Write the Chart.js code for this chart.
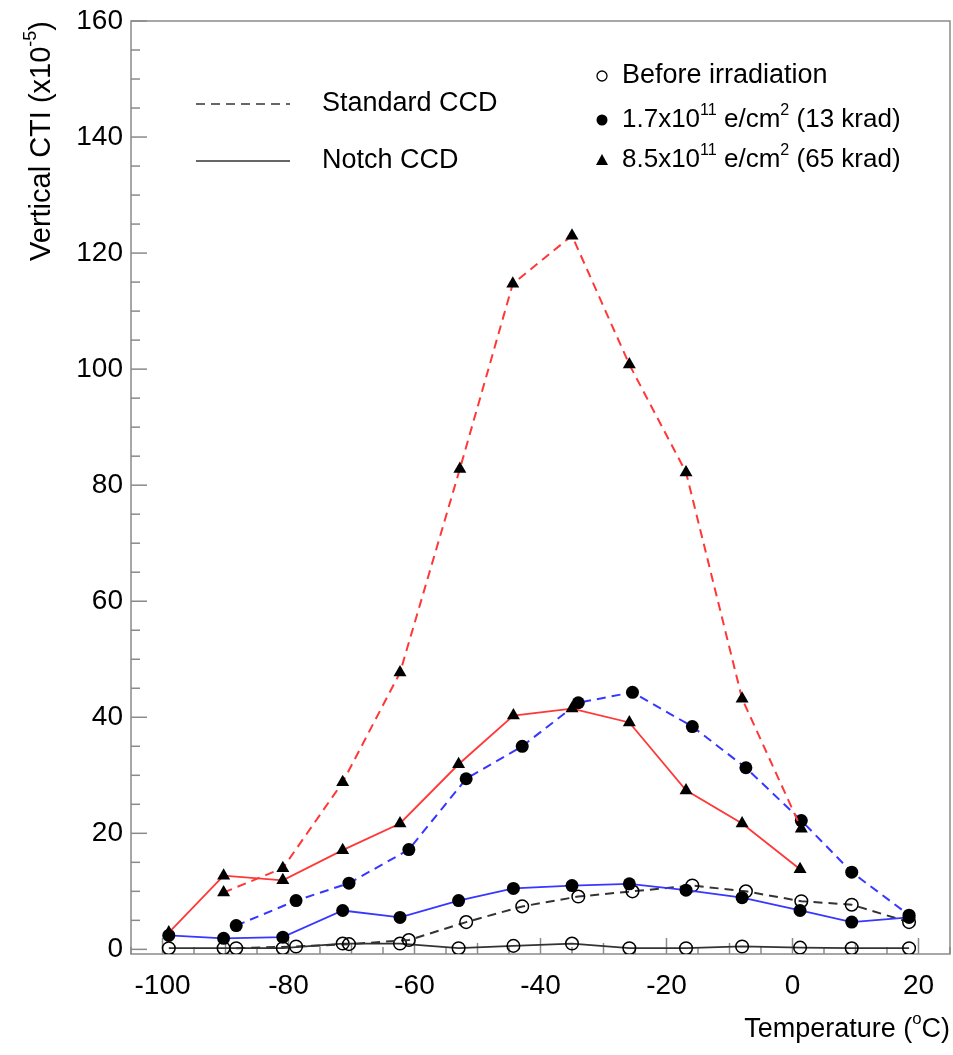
<!DOCTYPE html>
<html>
<head>
<meta charset="utf-8">
<script src="https://cdn.jsdelivr.net/npm/chart.js@4.4.1/dist/chart.umd.min.js"></script>
<style>
  body { margin: 0; background: #fff; }
</style>
</head>
<body>
<canvas id="cti_chart" width="953" height="1055"></canvas>
<script>
// temperatures (deg C)
const notchTemp = [-99, -90.3, -80.9, -71.4, -62.3, -53, -44.3, -35, -25.9, -16.9, -8, 1.2, 9.4, 18.5];
const stdTemp = [-88.3, -78.8, -70.4, -60.9, -51.8, -42.9, -34, -25.4, -15.9, -7.4, 1.4, 9.4, 18.5];
const stdTemp65 = [-90.3, -80.9, -71.4, -62.3, -52.8, -44.4, -35, -25.9, -16.9, -8, 1.4];

// vertical CTI (x10^-5)
const notchBefore = [0.2, 0.2, 0.2, 1.0, 1.0, 0.2, 0.6, 1.0, 0.2, 0.2, 0.5, 0.3, 0.2, 0.2];
const notch13 = [2.4, 1.9, 2.1, 6.7, 5.5, 8.4, 10.5, 11.0, 11.3, 10.2, 8.9, 6.7, 4.7, 5.5];
const notch65 = [2.9, 12.7, 11.9, 17.1, 21.7, 31.9, 40.3, 41.5, 39.1, 27.4, 21.7, 13.8];
const stdBefore = [0.2, 0.5, 0.9, 1.6, 4.7, 7.4, 9.1, 10.0, 11.0, 10.0, 8.3, 7.7, 4.7];
const std13 = [4.1, 8.4, 11.4, 17.2, 29.4, 35.0, 42.5, 44.3, 38.4, 31.3, 22.2, 13.3, 5.9];
const std65 = [9.8, 14.0, 28.8, 47.7, 82.8, 114.7, 123.0, 100.8, 82.2, 43.2, 20.8];

const xTickValues = [-100, -80, -60, -40, -20, 0, 20];
const yTickValues = [0, 20, 40, 60, 80, 100, 120, 140, 160];

const FONT = '"Liberation Sans", Arial, sans-serif';
const RED = 'rgb(255,55,55)';
const BLUE = 'rgb(55,55,255)';
const DARK = '#333';

function pts(temps, vals) {
  return vals.map(function (v, i) { return {x: temps[i], y: v}; });
}

// text with superscript parts
function drawRich(ctx, parts, x, y, size, align) {
  let total = 0;
  parts.forEach(function (p) {
    ctx.font = (p.sup ? size * 0.62 : size) + 'px ' + FONT;
    p.w = ctx.measureText(p.t).width;
    total += p.w;
  });
  let cx = align === 'right' ? x - total : x;
  parts.forEach(function (p) {
    ctx.font = (p.sup ? size * 0.62 : size) + 'px ' + FONT;
    ctx.fillText(p.t, cx, p.sup ? y - size * 0.38 : y);
    cx += p.w;
  });
}

function line(ctx, x1, y1, x2, y2) {
  ctx.beginPath();
  ctx.moveTo(x1, y1);
  ctx.lineTo(x2, y2);
  ctx.stroke();
}

// frame + inward ticks
const framePlugin = {
  id: 'frame',
  beforeDatasetsDraw(chart) {
    const ctx = chart.ctx, a = chart.chartArea, x = chart.scales.x, y = chart.scales.y;
    ctx.save();
    ctx.strokeStyle = '#8a8a8a';
    ctx.lineWidth = 1.5;
    ctx.strokeRect(a.left, a.top, a.right - a.left, a.bottom - a.top);
    for (let v = 0; v <= 160; v += 5) {
      const py = y.getPixelForValue(v);
      line(ctx, a.left, py, a.left + (v % 20 === 0 ? 16 : 9), py);
    }
    for (let v = -105; v <= 25; v += 5) {
      const px = x.getPixelForValue(v);
      const len = v % 20 === 0 ? 16 : (v % 10 === 0 ? 11 : 7);
      line(ctx, px, a.bottom, px, a.bottom - len);
    }
    ctx.restore();
  }
};

// axis titles and the two legend blocks
const textPlugin = {
  id: 'texts',
  afterDraw(chart) {
    const ctx = chart.ctx;
    ctx.save();
    ctx.fillStyle = '#000';
    ctx.textBaseline = 'middle';

    // y title
    ctx.save();
    ctx.translate(42, 21);
    ctx.rotate(-Math.PI / 2);
    drawRich(ctx, [{t: 'Vertical CTI (x10'}, {t: '-5', sup: true}, {t: ')'}], 0, 0, 29, 'right');
    ctx.restore();

    // x title
    drawRich(ctx, [{t: 'Temperature ('}, {t: 'o', sup: true}, {t: 'C)'}], 950, 1030, 27, 'right');

    // line style legend
    ctx.strokeStyle = '#666';
    ctx.lineWidth = 2;
    ctx.setLineDash([9, 6]);
    line(ctx, 196, 104, 290, 104);
    ctx.setLineDash([]);
    line(ctx, 196, 161, 290, 161);
    drawRich(ctx, [{t: 'Standard CCD'}], 322, 104, 27);
    drawRich(ctx, [{t: 'Notch CCD'}], 322, 161, 27);

    // marker legend
    ctx.strokeStyle = '#000';
    ctx.lineWidth = 1.3;
    ctx.beginPath();
    ctx.arc(602, 76, 5, 0, Math.PI * 2);
    ctx.stroke();
    ctx.beginPath();
    ctx.arc(602, 120, 5.5, 0, Math.PI * 2);
    ctx.fill();
    ctx.beginPath();
    ctx.moveTo(602, 154);
    ctx.lineTo(608, 165);
    ctx.lineTo(596, 165);
    ctx.closePath();
    ctx.fill();
    drawRich(ctx, [{t: 'Before irradiation'}], 622, 76, 27);
    drawRich(ctx, [{t: '1.7x10'}, {t: '11', sup: true}, {t: ' e/cm'}, {t: '2', sup: true}, {t: ' (13 krad)'}], 622, 120, 26);
    drawRich(ctx, [{t: '8.5x10'}, {t: '11', sup: true}, {t: ' e/cm'}, {t: '2', sup: true}, {t: ' (65 krad)'}], 622, 160, 26);
    ctx.restore();
  }
};

function series(data, color, dashed, marker) {
  const ds = {
    data: data,
    borderColor: color,
    borderWidth: dashed ? 2 : 1.8,
    borderDash: dashed ? [9, 6] : [],
    tension: 0,
    pointBorderColor: '#000',
    pointBorderWidth: 0,
    pointBackgroundColor: '#000'
  };
  if (marker === 'tri') {
    ds.pointStyle = 'triangle';
    ds.pointRadius = 7.5;
  } else if (marker === 'dot') {
    ds.pointStyle = 'circle';
    ds.pointRadius = 6.5;
  } else {
    ds.pointStyle = 'circle';
    ds.pointRadius = 6.3;
    ds.pointBorderWidth = 1.5;
    ds.pointBackgroundColor = 'rgba(0,0,0,0)';
  }
  return ds;
}

const config = {
  type: 'line',
  data: {
    datasets: [
      series(pts(stdTemp65, std65), RED, true, 'tri'),
      series(pts(notchTemp, notch65), RED, false, 'tri'),
      series(pts(stdTemp, std13), BLUE, true, 'dot'),
      series(pts(notchTemp, notch13), BLUE, false, 'dot'),
      series(pts(stdTemp, stdBefore), DARK, true, 'open'),
      series(pts(notchTemp, notchBefore), DARK, false, 'open')
    ]
  },
  options: {
    responsive: false,
    animation: false,
    devicePixelRatio: 1,
    layout: { autoPadding: false, padding: { top: 21, right: 3, left: 0, bottom: 0 } },
    plugins: { legend: { display: false }, tooltip: { enabled: false } },
    scales: {
      x: {
        type: 'linear',
        min: -105,
        max: 25,
        grid: { display: false, drawTicks: false },
        border: { display: false },
        afterBuildTicks: function (scale) { scale.ticks = xTickValues.map(function (v) { return {value: v}; }); },
        afterFit: function (scale) {
          scale.height = 101;
          scale.paddingLeft = 0;
          scale.paddingRight = 0;
        },
        ticks: { color: '#000', padding: 15, font: { family: FONT, size: 28 } }
      },
      y: {
        type: 'linear',
        min: -0.8,
        max: 160,
        grid: { display: false, drawTicks: false },
        border: { display: false },
        afterBuildTicks: function (scale) { scale.ticks = yTickValues.map(function (v) { return {value: v}; }); },
        afterFit: function (scale) {
          scale.width = 131;
          scale.paddingTop = 0;
          scale.paddingBottom = 0;
        },
        ticks: { color: '#000', padding: 8, font: { family: FONT, size: 28 } }
      }
    }
  },
  plugins: [framePlugin, textPlugin]
};

const cti_chart = new Chart(document.getElementById('cti_chart'), config);
</script>
</body>
</html>
